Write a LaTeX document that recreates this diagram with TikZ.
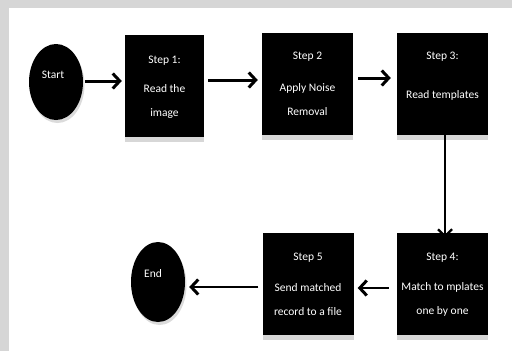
\documentclass[tikz,border=0pt]{standalone}
\usepackage{fontspec}
\setmainfont{Carlito}
\usetikzlibrary{arrows.meta,shadows,shapes.geometric}
\begin{document}
\begin{tikzpicture}[x=1pt,y=-1pt,
  stepbox/.style={draw=none, fill=black, minimum width=91pt, minimum height=102pt, inner sep=0pt,
    drop shadow={shadow xshift=0pt, shadow yshift=-5pt, fill=black!22, opacity=0.7}},
  oval/.style={draw=none, fill=black, ellipse, minimum width=54pt, minimum height=76pt, inner sep=0pt,
    drop shadow={shadow xshift=1.5pt, shadow yshift=-3pt, fill=black!20, opacity=0.7}},
  txt/.style={text=white, align=center, font=\fontsize{11.5}{24}\selectfont, inner sep=0pt},
  flow/.style={line width=3pt, -{Straight Barb[length=7pt,width=15pt,line width=3pt]}},
  flowthin/.style={line width=2pt, -{Straight Barb[length=7pt,width=14pt,line width=2.2pt]}}
]
\useasboundingbox (0,0) rectangle (512,351);
\fill[black!16] (0,0) rectangle (512,351);
\fill[white] (8.5,7.5) rectangle (512,351);

% nodes
\node[oval] (start) at (56,82) {};
\node[txt] (startt) at (53,75) {Start};
\node[stepbox, minimum width=79pt] (s1) at (164.5,86) {};
\node[stepbox] (s2) at (307.5,84) {};
\node[stepbox] (s3) at (442.5,84) {};
\node[stepbox] (s4) at (442.5,284) {};
\node[stepbox] (s5) at (308,284) {};
\node[oval, minimum height=80pt] (end) at (158,282) {};
\node[txt] (endt) at (153,274) {End};

% texts
\node[txt] (s1a) at ([yshift=-26pt]s1.north) {Step 1:};
\node[txt] (s1b) at ([yshift=-67pt]s1.north) {Read the\\image};
\node[txt] (s2a) at ([yshift=-24pt]s2.north) {Step 2};
\node[txt] (s2b) at ([yshift=-67pt]s2.north) {Apply Noise\\Removal};
\node[txt] (s3a) at ([yshift=-24pt]s3.north) {Step 3:};
\node[txt] (s3b) at ([yshift=-63pt]s3.north) {Read templates};
\node[txt] (s4a) at ([yshift=-25pt]s4.north) {Step 4:};
\node[txt] (s4b) at ([yshift=-67pt]s4.north) {Match to mplates\\one by one};
\node[txt] (s5a) at ([yshift=-25pt]s5.north) {Step 5};
\node[txt] (s5b) at ([yshift=-67pt]s5.north) {Send matched\\record to a file};

% connectors
\draw[flow] ([xshift=2pt]start.east |- 0,81) -- ([xshift=-3pt]s1.west |- 0,81);
\draw[flow] ([xshift=4pt]s1.east |- 0,80) -- ([xshift=-4pt]s2.west |- 0,80);
\draw[flow] ([xshift=5pt]s2.east |- 0,78) -- ([xshift=-6pt]s3.west |- 0,78);
\draw[flowthin] ([yshift=6pt]s3.south -| 445,0) -- ([yshift=-5pt]s4.north -| 445,0);
\draw[flow, line width=2.5pt] ([xshift=-8pt]s4.west |- 0,288) -- ([xshift=4pt]s5.east |- 0,288);
\draw[flow, line width=2.5pt] ([xshift=-4pt]s5.west |- 0,287) -- ([xshift=4pt]end.east |- 0,287);
\end{tikzpicture}
\end{document}
